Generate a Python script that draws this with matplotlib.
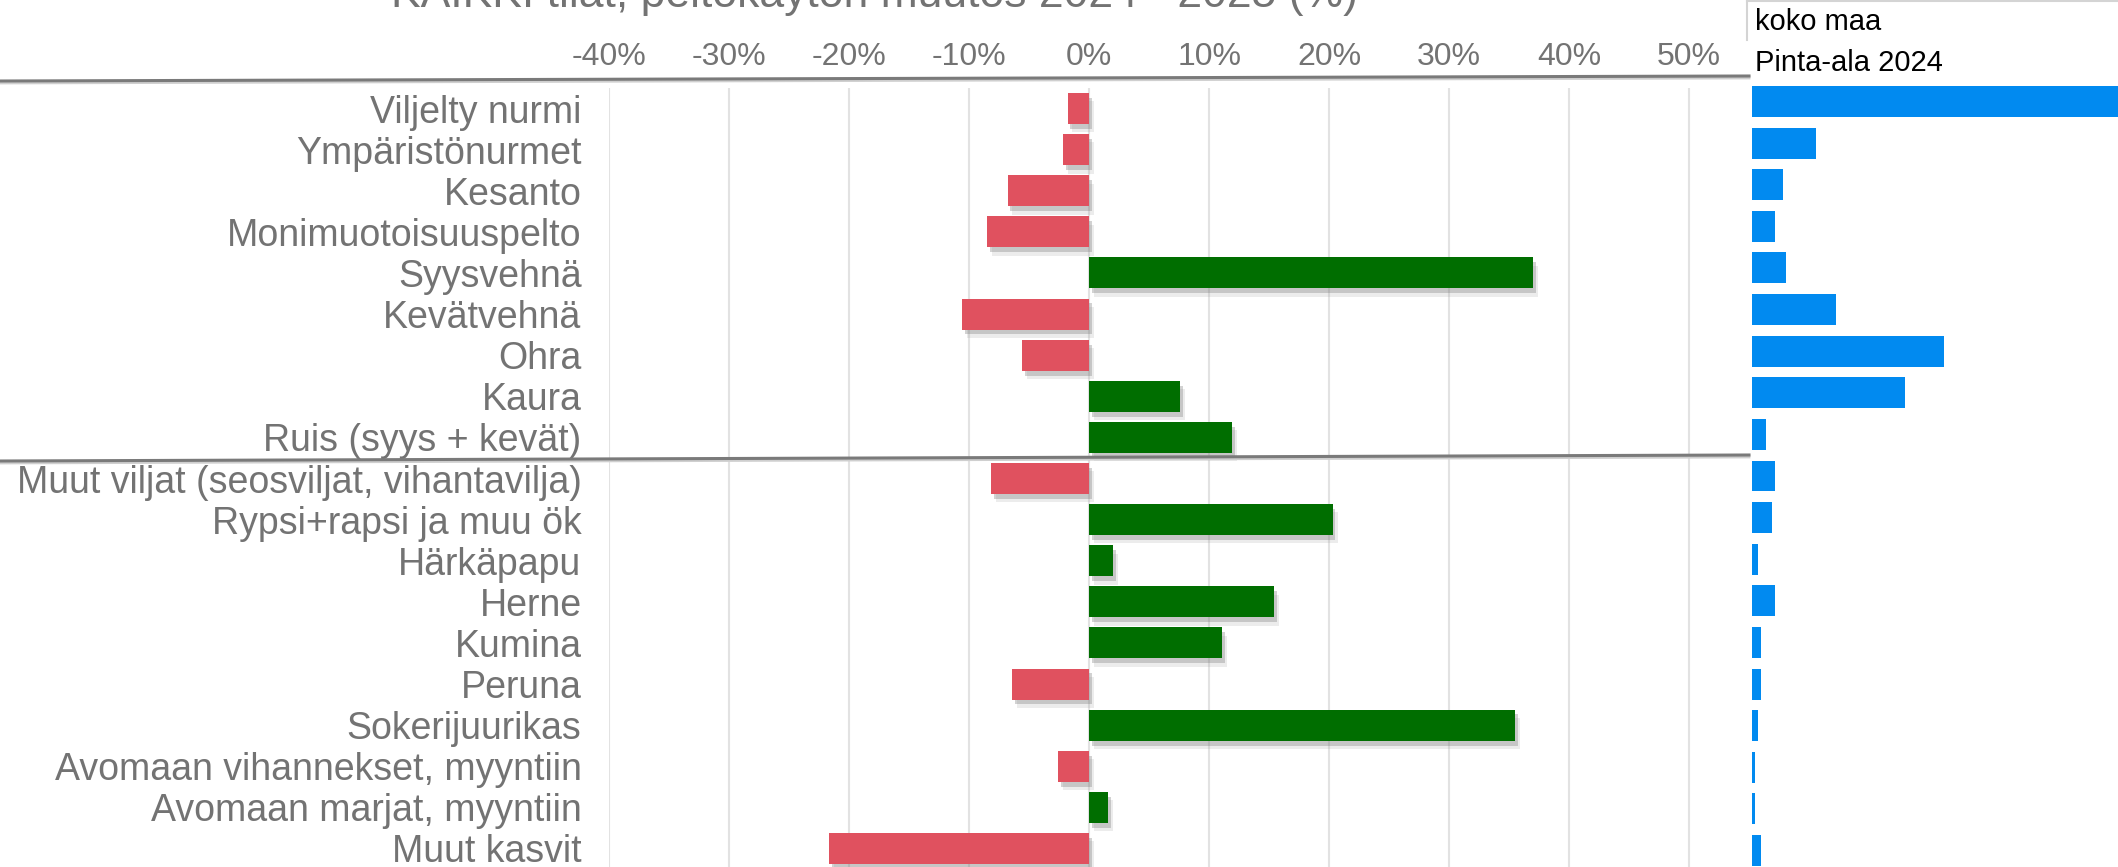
import numpy as np
import matplotlib
matplotlib.use("Agg")
import matplotlib.pyplot as plt
import matplotlib.patheffects as pe
from matplotlib.lines import Line2D
from matplotlib.ticker import PercentFormatter

plt.rcParams['font.family'] = ['Liberation Sans', 'DejaVu Sans']
plt.rcParams['axes.unicode_minus'] = False

# --- data ---
crops = ["Viljelty nurmi", "Ympäristönurmet", "Kesanto", "Monimuotoisuuspelto",
         "Syysvehnä", "Kevätvehnä", "Ohra", "Kaura", "Ruis (syys + kevät)",
         "Muut viljat (seosviljat, vihantavilja)", "Rypsi+rapsi ja muu ök",
         "Härkäpapu", "Herne", "Kumina", "Peruna", "Sokerijuurikas",
         "Avomaan vihannekset, myyntiin", "Avomaan marjat, myyntiin", "Muut kasvit"]
change_pct = [-1.8, -2.2, -6.8, -8.5, 37.0, -10.6, -5.6, 7.6, 11.9,
              -8.2, 20.3, 2.0, 15.4, 11.1, -6.4, 35.5, -2.6, 1.6, -21.7]
area_2024 = [780000, 127000, 61500, 45600, 67500, 167000, 381000, 304000, 27800,
             45600, 39700, 11900, 45600, 17900, 17900, 11900, 6000, 6000, 17900]
xticks_pct = [-40, -30, -20, -10, 0, 10, 20, 30, 40, 50]

title = "KAIKKI tilat, peltokäytön muutos 2024 - 2025 (%)"
W, H = 2118, 867
grey = "#737373"

fig = plt.figure(figsize=(W / 100, H / 100), dpi=100)

def fx(px):
    return px / W

def fy(py):
    return 1 - py / H

shadow = [pe.SimplePatchShadow(offset=(3.5, -6), shadow_rgbFace="#a0a0a0", alpha=0.2),
          pe.SimplePatchShadow(offset=(2, -3.5), shadow_rgbFace="#808080", alpha=0.35),
          pe.Normal()]

# --- change chart ---
top, bot = 88, 869
ax = fig.add_axes([fx(609.3), fy(bot), fx(1749 - 609.3), (bot - top) / H])
y = np.arange(len(crops))
vals = np.array(change_pct)
colors = ["#006E00" if v > 0 else "#E0515F" for v in vals]
bars = ax.barh(y, vals, height=0.755, color=colors, zorder=3)
for b in bars:
    b.set_path_effects(shadow)
ax.set_xlim(-40, 55)
ax.set_ylim(len(crops) - 0.5, -0.5)
ax.set_xticks(xticks_pct)
ax.xaxis.set_major_formatter(PercentFormatter(decimals=0))
ax.xaxis.tick_top()
ax.grid(axis="x", color="#E2E2E2", lw=1.5, zorder=0)
ax.set_yticks(y)
ax.set_yticklabels(crops)
ax.tick_params(axis="x", length=0, pad=11.5, labelsize=23, labelcolor=grey)
ax.tick_params(axis="y", length=0, pad=20, labelsize=27, labelcolor=grey)
for s in ax.spines.values():
    s.set_visible(False)

# --- area chart ---
ax2 = fig.add_axes([fx(1752), fy(871.3), 1 - fx(1752), (871.3 - 80.7) / H])
ax2.barh(y, area_2024, height=0.745, color="#018AF0")
ax2.set_xlim(0, 726000)
ax2.set_ylim(len(crops) - 0.5, -0.5)
ax2.axis("off")

# title, cut at the top edge as in the source
fig.text(fx(874), fy(7), title, ha="center", va="baseline", fontsize=32, color=grey)

# separator lines
for (x0, y0, x1, y1) in [(0, 81, 1749, 76), (0, 461, 1749, 455)]:
    fig.add_artist(Line2D([fx(x0), fx(x1)], [fy(y0 + 2), fy(y1 + 2)], color="#cfcfcf", lw=2))
    fig.add_artist(Line2D([fx(x0), fx(x1)], [fy(y0), fy(y1)], color="#7a7a7a", lw=2.2))

# slicer box
fig.add_artist(Line2D([fx(1747), fx(1747)], [fy(1), fy(40)], color="#d4d4d4", lw=1.5))
fig.add_artist(Line2D([fx(1747), 1], [fy(1), fy(1)], color="#d4d4d4", lw=1.5))
fig.text(fx(1755), fy(22), "koko maa", ha="left", va="center", fontsize=21, color="black")
fig.text(fx(1755), fy(63), "Pinta-ala 2024", ha="left", va="center", fontsize=21, color="black")

fig.savefig("out.png", dpi=100)
